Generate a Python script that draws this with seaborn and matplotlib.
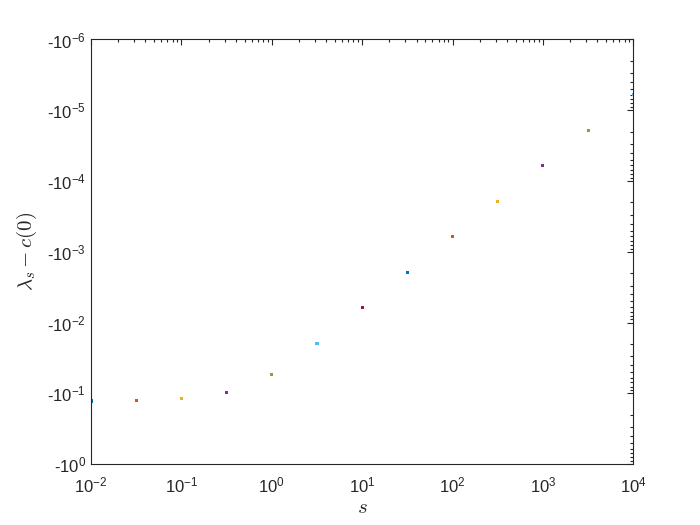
import matplotlib
matplotlib.use("Agg")
import matplotlib.pyplot as plt
import matplotlib.ticker as mticker
import pandas as pd
import seaborn as sns

# values
s_vals = [1e-2, 10**-1.5, 1e-1, 10**-0.5, 1e0, 10**0.5, 1e1,
          10**1.5, 1e2, 10**2.5, 1e3, 10**3.5, 1e4]
lam_minus_c0 = [-0.128, -0.125, -0.117, -0.0965, -0.0537, -0.0196, -0.00608,
                -0.00195, -10**-3.219, -10**-3.712, -10**-4.22, -10**-4.715, -10**-5.223]

# matlab default colour order, one colour per point
mcolors = [(0, 0.447, 0.741), (0.85, 0.325, 0.098), (0.929, 0.694, 0.125),
           (0.494, 0.184, 0.556), (0.466, 0.674, 0.188), (0.301, 0.745, 0.933),
           (0.635, 0.078, 0.184)]
pt_colors = [mcolors[i % 7] for i in range(len(s_vals))]

sns.set_style("white")
plt.rcParams['font.family'] = ['Liberation Sans', 'DejaVu Sans']
plt.rcParams['mathtext.fontset'] = 'custom'
plt.rcParams['mathtext.rm'] = 'Liberation Sans'
plt.rcParams['mathtext.it'] = 'Liberation Sans:italic'
plt.rcParams['mathtext.bf'] = 'Liberation Sans:bold'

grey = '#262626'

df = pd.DataFrame({'s': s_vals,
                   'mag': [-v for v in lam_minus_c0],
                   'idx': [str(i) for i in range(len(s_vals))]})

fig = plt.figure(figsize=(7, 5.25), dpi=100)
ax = fig.add_axes([0.13, 0.1158, 0.7747, 0.809])

sns.scatterplot(data=df, x='s', y='mag', hue='idx', palette=pt_colors,
                marker='s', s=5, linewidth=0, legend=False, ax=ax)

ax.set_xscale('log')
ax.set_yscale('log')
ax.set_xlim(1e-2, 1e4)
ax.set_ylim(1, 1e-6)

ax.xaxis.set_major_locator(mticker.LogLocator(base=10, numticks=20))
ax.xaxis.set_minor_locator(mticker.LogLocator(base=10, subs=range(2, 10), numticks=50))
ax.yaxis.set_major_locator(mticker.LogLocator(base=10, numticks=20))
ax.yaxis.set_minor_locator(mticker.LogLocator(base=10, subs=range(2, 10), numticks=50))
ax.xaxis.set_major_formatter(mticker.FuncFormatter(
    lambda v, p: r'$\mathregular{10^{%d}}$' % round(__import__('math').log10(v))))
ax.yaxis.set_major_formatter(mticker.FuncFormatter(
    lambda v, p: r'-$\mathregular{10^{%d}}$' % round(__import__('math').log10(v))))
ax.xaxis.set_minor_formatter(mticker.NullFormatter())
ax.yaxis.set_minor_formatter(mticker.NullFormatter())

ax.tick_params(which='both', direction='in', top=True, right=True,
               colors=grey, labelsize=12, width=0.8)
ax.tick_params(which='major', length=4)
ax.tick_params(which='minor', length=2.5)
ax.tick_params(axis='x', pad=8)
for sp in ax.spines.values():
    sp.set_color(grey)
    sp.set_linewidth(0.8)

ax.set_xlabel('$s$', fontsize=15, color=grey, math_fontfamily='cm', labelpad=2)
ax.set_ylabel(r'$\lambda_s - c(0)$', fontsize=15, color=grey, math_fontfamily='cm', labelpad=6)

fig.savefig('out.png', dpi=100)
